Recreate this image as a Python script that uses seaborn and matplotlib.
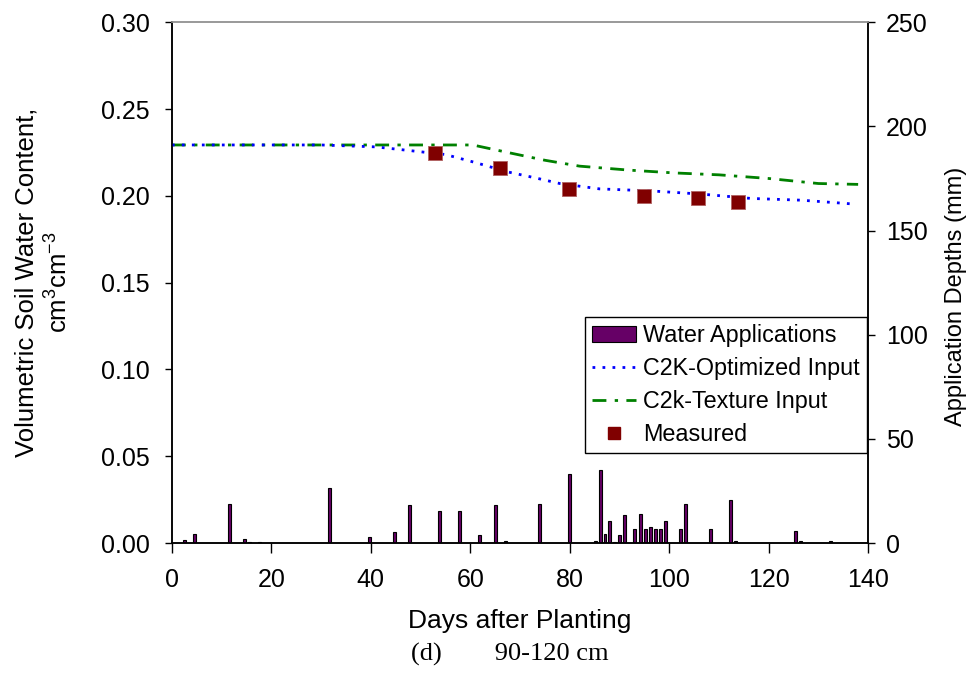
import numpy as np
import pandas as pd
import matplotlib
matplotlib.use("Agg")
import matplotlib.pyplot as plt
from matplotlib.patches import Patch
from matplotlib.lines import Line2D
from matplotlib.ticker import FormatStrFormatter
import seaborn as sns

# Irrigation / rainfall events (day after planting, depth in mm)
app_days = [2.5, 4.6, 11.6, 14.7, 15.6, 17.6, 31.7, 39.8, 44.8, 47.8, 53.9, 57.9,
            61.9, 65.0, 67.0, 74.0, 80.0, 85.1, 86.1, 87.1, 88.1, 89.1, 90.1, 91.1,
            93.1, 94.2, 95.2, 96.2, 97.2, 98.2, 99.2, 102.2, 103.2, 108.3, 112.3,
            113.3, 125.4, 126.4, 132.5]
app_depth = [1.6, 4.2, 19.0, 2.2, 0.5, 0.5, 26.4, 2.7, 5.1, 18.1, 15.5, 15.5,
             3.7, 18.1, 1.2, 19.0, 33.4, 1.0, 35.2, 4.2, 10.4, 0.6, 4.0, 13.6,
             7.0, 14.0, 7.0, 7.7, 7.0, 7.0, 10.6, 6.6, 19.0, 6.6, 20.8,
             1.0, 5.6, 1.0, 1.0]

# Simulated soil water content, optimized soil inputs
opt_days = [0, 30, 41, 49, 55, 61, 67.5, 73, 78, 86, 96, 106.5, 116.5, 126.6, 137.5]
opt_swc = [0.2293, 0.2293, 0.2282, 0.2257, 0.2238, 0.2192, 0.2138, 0.2104, 0.2071,
           0.2040, 0.2029, 0.2010, 0.1985, 0.1975, 0.1952]

# Simulated soil water content, texture-based soil inputs
tex_days = [0, 60, 61, 68, 75, 82, 92, 101, 110, 120, 130, 138]
tex_swc = [0.2293, 0.2293, 0.2290, 0.2247, 0.2205, 0.2171, 0.2148, 0.2132, 0.2121,
           0.2100, 0.2071, 0.2066]

# Measured soil water content
meas_days = [52.9, 65.9, 79.8, 94.9, 105.9, 113.9]
meas_swc = [0.2246, 0.2158, 0.2038, 0.2000, 0.1985, 0.1967]

sns.set_style("ticks")
plt.rcParams["font.family"] = ["Liberation Sans", "DejaVu Sans"]
plt.rcParams["mathtext.fontset"] = "custom"
plt.rcParams["mathtext.rm"] = "Liberation Sans"
plt.rcParams["mathtext.default"] = "regular"
for key in ("text.color", "axes.labelcolor", "xtick.color", "ytick.color"):
    plt.rcParams[key] = "black"

fig = plt.figure(figsize=(9.71, 6.73), dpi=100)
ax = fig.add_axes([0.177, 0.193, 0.894 - 0.177, 0.967 - 0.193])
ax2 = ax.twinx()

bar_color = "#660066"
blue = "#0000ff"
green = "#008000"
meas_color = "#800000"
dot_style = (0, (1, 2.6))
dashdot_style = (0, (5, 3, 1.2, 3))

ax2.bar(app_days, app_depth, width=0.6, color=bar_color, edgecolor="black",
        linewidth=0.8, zorder=2)

opt_df = pd.DataFrame({"day": opt_days, "swc": opt_swc})
tex_df = pd.DataFrame({"day": tex_days, "swc": tex_swc})
meas_df = pd.DataFrame({"day": meas_days, "swc": meas_swc})

sns.lineplot(data=tex_df, x="day", y="swc", ax=ax, color=green, linewidth=2,
             linestyle=dashdot_style)
sns.lineplot(data=opt_df, x="day", y="swc", ax=ax, color=blue, linewidth=2,
             linestyle=dot_style)
sns.scatterplot(data=meas_df, x="day", y="swc", ax=ax, marker="s", s=95,
                color=meas_color, edgecolor="#b06060", linewidth=0.6, zorder=5)

# lines and markers go above the bar axis
ax.set_zorder(ax2.get_zorder() + 1)
ax.patch.set_visible(False)

ax.set_xlim(0, 140)
ax.set_ylim(0, 0.30)
ax2.set_ylim(0, 250)
ax.set_xticks(np.arange(0, 141, 20))
ax.set_yticks(np.arange(0, 0.301, 0.05))
ax.yaxis.set_major_formatter(FormatStrFormatter("%.2f"))
ax2.set_yticks(np.arange(0, 251, 50))

fs = 18
ax.tick_params(axis="y", labelsize=fs, direction="out", length=5, width=1,
               color="black", pad=11)
ax.tick_params(axis="x", labelsize=fs, direction="out", length=7, width=1,
               color="black", pad=11)
ax2.tick_params(axis="y", labelsize=fs, direction="out", length=5, width=1,
                color="black", pad=8)

for a in (ax, ax2):
    for side in ("left", "right", "bottom"):
        a.spines[side].set_color("black")
        a.spines[side].set_linewidth(1.1)
    a.spines["top"].set_color("#999999")
    a.spines["top"].set_linewidth(1.2)

ax.set_xlabel("Days after Planting", fontsize=19, labelpad=12)
ax.set_ylabel("Volumetric Soil Water Content,\ncm$^{3}$cm$^{-3}$", fontsize=18.5,
              labelpad=20, linespacing=1.35)
ax2.set_ylabel("Application Depths (mm)", fontsize=17)
ax2.yaxis.set_label_coords(1.11, 0.474)

fig.text(0.525, 0.018, "(d)        90-120 cm", fontsize=19,
         family=["Liberation Serif", "DejaVu Serif"], ha="center", va="baseline")

handles = [
    Patch(facecolor=bar_color, edgecolor="black", linewidth=0.8),
    Line2D([], [], color=blue, linewidth=2, linestyle=dot_style),
    Line2D([], [], color=green, linewidth=2, linestyle=dashdot_style),
    Line2D([], [], color=meas_color, marker="s", markersize=9, linestyle="none"),
]
labels = ["Water Applications", "C2K-Optimized Input", "C2k-Texture Input", "Measured"]
leg = ax.legend(handles, labels, loc="upper right", bbox_to_anchor=(0.998, 0.434),
                fontsize=16.8, frameon=True, fancybox=False, framealpha=1,
                edgecolor="black", borderpad=0.3, labelspacing=0.43,
                handlelength=1.9, handletextpad=0.3, borderaxespad=0)
leg.get_frame().set_linewidth(1.0)

fig.savefig("out.png", dpi=100)
